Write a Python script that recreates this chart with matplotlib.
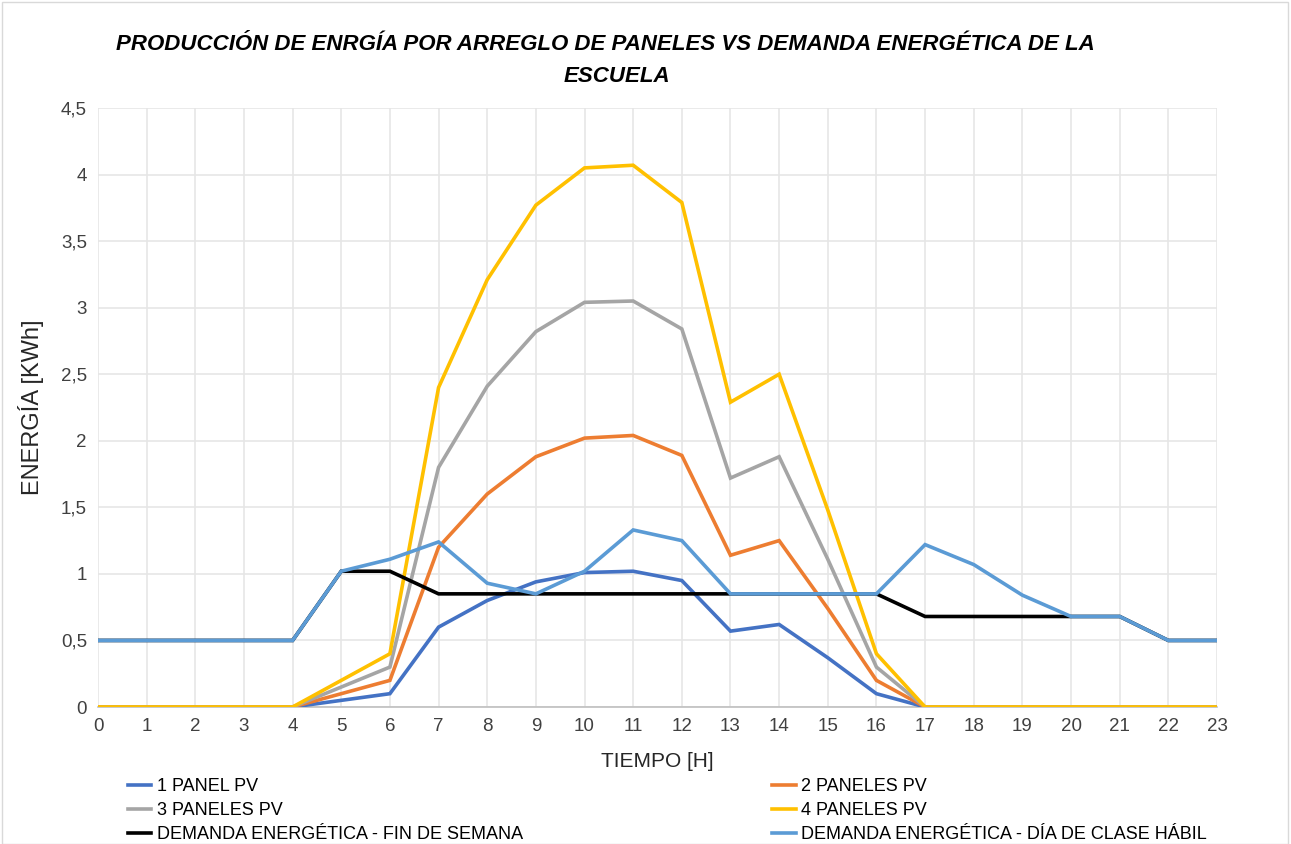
import matplotlib.pyplot as plt
from matplotlib.patches import Rectangle

plt.rcParams['font.family'] = ['Liberation Sans', 'DejaVu Sans']

hours = list(range(24))

panel_1 = [0, 0, 0, 0, 0, 0.05, 0.10, 0.60, 0.80, 0.94, 1.01, 1.02, 0.95, 0.57, 0.62, 0.37, 0.10,
           0, 0, 0, 0, 0, 0, 0]
panel_2 = [0, 0, 0, 0, 0, 0.10, 0.20, 1.20, 1.60, 1.88, 2.02, 2.04, 1.89, 1.14, 1.25, 0.74, 0.20,
           0, 0, 0, 0, 0, 0, 0]
panel_3 = [0, 0, 0, 0, 0, 0.15, 0.30, 1.80, 2.41, 2.82, 3.04, 3.05, 2.84, 1.72, 1.88, 1.11, 0.30,
           0, 0, 0, 0, 0, 0, 0]
panel_4 = [0, 0, 0, 0, 0, 0.20, 0.40, 2.40, 3.21, 3.77, 4.05, 4.07, 3.79, 2.29, 2.50, 1.48, 0.40,
           0, 0, 0, 0, 0, 0, 0]
demanda_finde = [0.5, 0.5, 0.5, 0.5, 0.5, 1.02, 1.02, 0.85, 0.85, 0.85, 0.85, 0.85, 0.85, 0.85, 0.85,
                 0.85, 0.85, 0.68, 0.68, 0.68, 0.68, 0.68, 0.5, 0.5]
demanda_habil = [0.5, 0.5, 0.5, 0.5, 0.5, 1.02, 1.11, 1.24, 0.93, 0.85, 1.02, 1.33, 1.25, 0.85, 0.85,
                 0.85, 0.85, 1.22, 1.07, 0.84, 0.68, 0.68, 0.5, 0.5]

series = [
    ("1 PANEL PV", panel_1, "#4472C4"),
    ("2 PANELES PV", panel_2, "#ED7D31"),
    ("3 PANELES PV", panel_3, "#A5A5A5"),
    ("4 PANELES PV", panel_4, "#FFC000"),
    ("DEMANDA ENERGÉTICA - FIN DE SEMANA", demanda_finde, "#000000"),
    ("DEMANDA ENERGÉTICA - DÍA DE CLASE HÁBIL", demanda_habil, "#5B9BD5"),
]

fig = plt.figure(figsize=(12.91, 8.44), dpi=100)
ax = fig.add_axes([98 / 1291, 1 - 707 / 844, (1217 - 98) / 1291, (707 - 108) / 844])

handles = []
for label, vals, color in series:
    line, = ax.plot(hours, vals, color=color, linewidth=2.6, label=label, zorder=3,
                    solid_joinstyle="miter")
    handles.append(line)

ax.set_xlim(0, 23)
ax.set_ylim(0, 4.5)
ax.set_xticks(hours)
ax.set_yticks([0, 0.5, 1, 1.5, 2, 2.5, 3, 3.5, 4, 4.5])
ax.set_yticklabels(["0", "0,5", "1", "1,5", "2", "2,5", "3", "3,5", "4", "4,5"])
ax.tick_params(length=0, labelsize=13.5, colors="#404040", pad=8)
ax.grid(True, color="#E6E6E6", linewidth=1.2)
ax.set_axisbelow(True)
for s in ["top", "right", "left"]:
    ax.spines[s].set_visible(False)
ax.spines["bottom"].set_color("#BFBFBF")
ax.spines["bottom"].set_linewidth(1.2)

ax.set_xlabel("TIEMPO [H]", fontsize=15, color="#262626", labelpad=12)
ax.set_ylabel("ENERGÍA [KWh]", fontsize=17, color="#262626", labelpad=12)

fig.text(605 / 1291, 1 - 44 / 844, "PRODUCCIÓN DE ENRGÍA POR ARREGLO DE PANELES VS DEMANDA ENERGÉTICA DE LA",
         ha="center", va="center", fontsize=16, fontweight="bold", fontstyle="italic")
fig.text(617 / 1291, 1 - 76 / 844, "ESCUELA",
         ha="center", va="center", fontsize=16, fontweight="bold", fontstyle="italic")

# legend filled row by row like Excel
order = [0, 2, 4, 1, 3, 5]
fig.legend([handles[i] for i in order], [series[i][0] for i in order],
           loc="upper left", bbox_to_anchor=(128 / 1291, 1 - 778 / 844), ncol=2,
           frameon=False, fontsize=13, handlelength=1.3, handletextpad=0.3,
           columnspacing=13.8, labelspacing=0.4, borderaxespad=0, borderpad=0)

fig.patches.append(Rectangle((2 / 1291, 0), 1 - 5 / 1291, 1 - 2 / 844, transform=fig.transFigure,
                             fill=False, edgecolor="#D9D9D9", linewidth=1))

fig.savefig("out.png", dpi=100)
